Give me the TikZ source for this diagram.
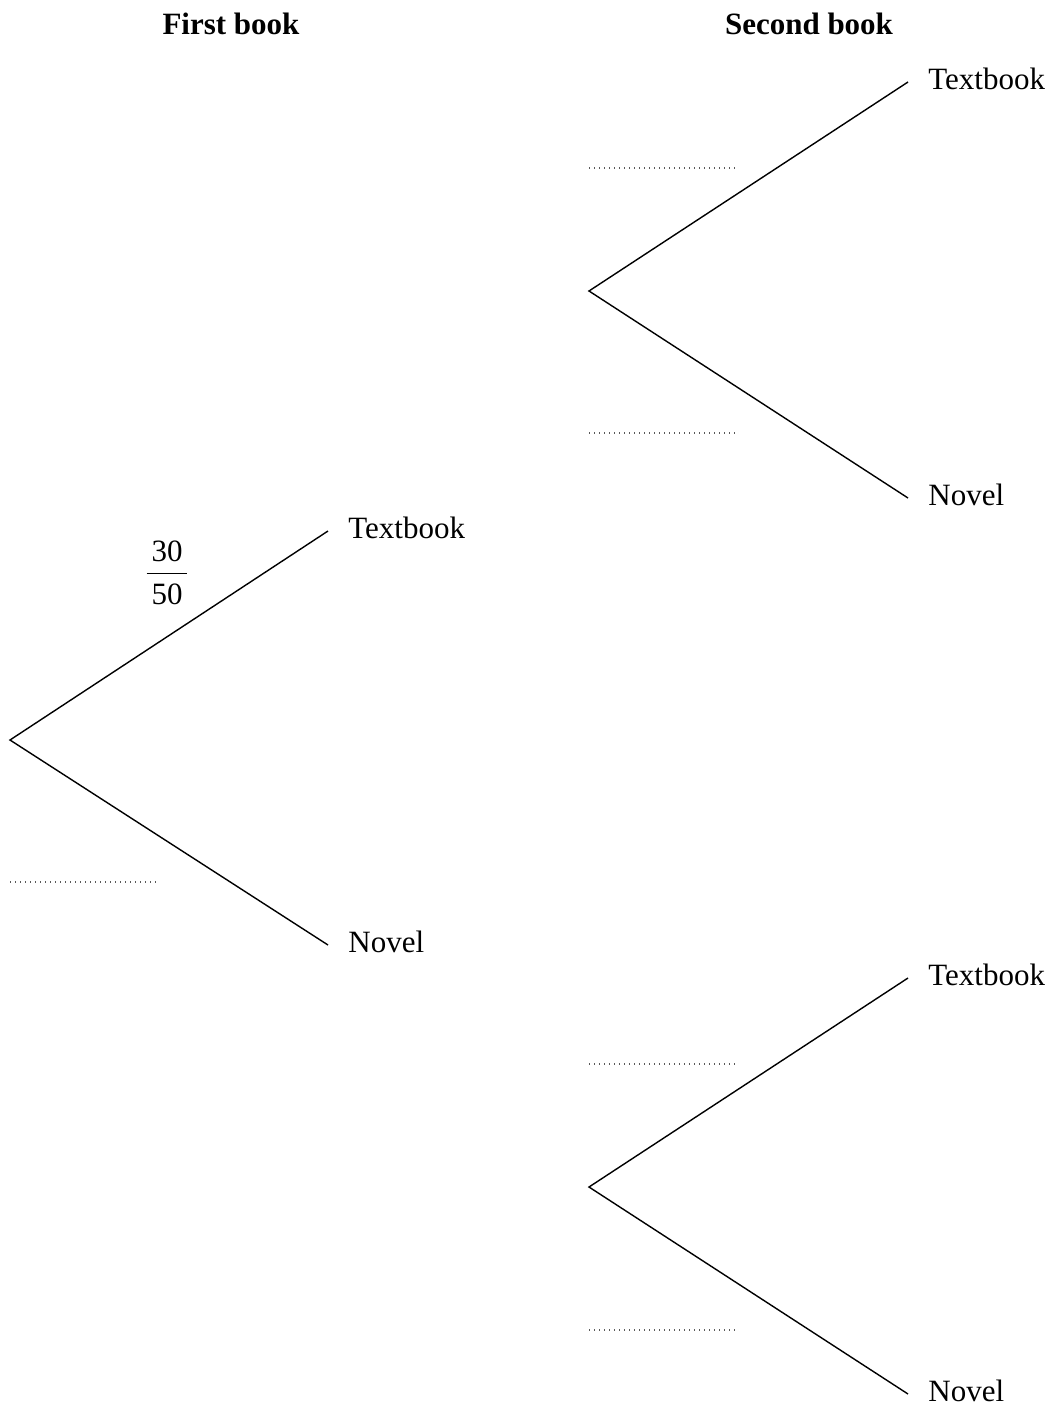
\documentclass[tikz,border=0pt]{standalone}
\usepackage{amsmath}
\usepackage{fontspec}
\setmainfont{Liberation Serif}
\usepackage{tikz}
\usetikzlibrary{positioning}

\begin{document}
\begin{tikzpicture}[
    x=0.5pt, y=-0.5pt,
    font=\fontsize{15.5}{18}\selectfont,
    leaf/.style={anchor=west, inner xsep=10pt, inner ysep=0pt, text depth=3pt},
    head/.style={font=\fontsize{15.5}{18}\selectfont\bfseries},
    branch/.style={line width=0.7pt},
    blank/.style={line width=0.7pt, black!65, dash pattern=on 0.5pt off 2pt}
]
\useasboundingbox (0,0) rectangle (1053,1408);

% headings
\node[head] (h1) at (231,24) {First book};
\node[head] (h2) at (809,24) {Second book};

% roots
\coordinate (r0) at (10,740);
\coordinate (r1) at (589,291);
\coordinate (r2) at (589,1187);

% first book
\node[leaf] (tb0) at (328,531) {Textbook};
\node[leaf] (nv0) at (328,945) {Novel};
\draw[branch] (tb0.west) -- (r0) -- (nv0.west);
\node (p0) at (167,573)
    {$\dfrac{\,\text{30}\rule[-3pt]{0pt}{3pt}\,}{\,\rule{0pt}{13.5pt}\text{50}\,}$};
\draw[blank] (10,882) -- (158,882);

% second book, after textbook
\node[leaf] (tb1) at (908,82) {Textbook};
\node[leaf] (nv1) at (908,498) {Novel};
\draw[branch] (tb1.west) -- (r1) -- (nv1.west);
\draw[blank] (589,168) -- (737,168);
\draw[blank] (589,433) -- (737,433);

% second book, after novel
\node[leaf] (tb2) at (908,978) {Textbook};
\node[leaf] (nv2) at (908,1394) {Novel};
\draw[branch] (tb2.west) -- (r2) -- (nv2.west);
\draw[blank] (589,1064) -- (737,1064);
\draw[blank] (589,1330) -- (737,1330);
\end{tikzpicture}
\end{document}
